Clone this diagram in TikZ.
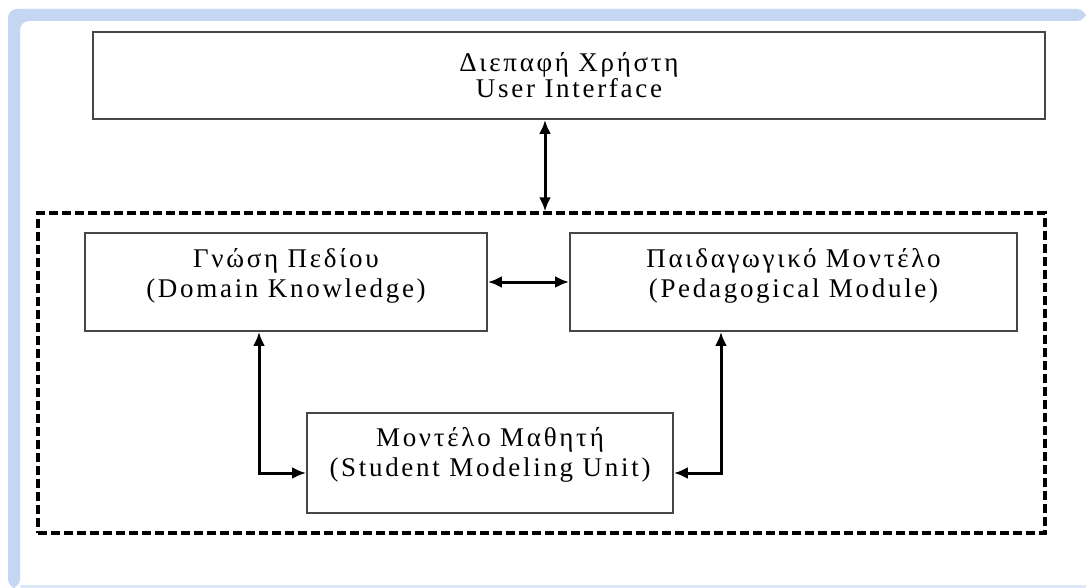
\documentclass[tikz,border=0pt]{standalone}
\usepackage{fontspec}
\setmainfont{Liberation Serif}[LetterSpace=10]
\usetikzlibrary{arrows.meta, positioning}
\definecolor{FrameBlue}{RGB}{196,214,242}
\definecolor{BoxGray}{RGB}{70,70,70}

\begin{document}
\begin{tikzpicture}[x=1pt, y=-1pt,
     N/.style = {draw=BoxGray, line width=1.8pt, fill=white, align=center,
                 inner sep=0pt, font=\fontsize{27}{30}\selectfont},
  core/.style = {draw, line width=3.2pt, dash pattern=on 9pt off 4pt,
                 inner sep=0pt},
    every edge/.style={draw, {Latex[length=14pt,width=12pt]}-{Latex[length=14pt,width=12pt]}, line width=3pt}
                        ]
\useasboundingbox (0,0) rectangle (1086,588);
% screenshot frame
\fill[white] (0,0) rectangle (1086,588);
\fill[FrameBlue, rounded corners=9pt] (1086,9) -- (8,9) -- (8,588) -- (20,588)
     -- (20,21) -- (1086,21) -- cycle;
\fill[FrameBlue!60] (20,585) rectangle (1086,588);

\node[core, minimum width=1007pt, minimum height=320pt] (core) at (541.5,373) {};
\node[N, minimum width=952pt, minimum height=87pt, font=\fontsize{27}{26}\selectfont] (ui) at (569,75.5)
     {Διεπαφή Χρήστη\\User Interface};
\node[N, minimum width=402pt, minimum height=98pt] (domain) at (286,282)
     {Γνώση Πεδίου\\(Domain Knowledge)\\[-12pt]};
\node[N, minimum width=447pt, minimum height=98pt] (pedag) at (793.5,282)
     {Παιδαγωγικό Μοντέλο\\(Pedagogical Module)\\[-12pt]};
\node[N, minimum width=366pt, minimum height=100pt] (student) at (490,463)
     {Μοντέλο Μαθητή\\(Student Modeling Unit)\\[-8pt]};

\coordinate (uiport) at (545,0);
\coordinate (lbend)  at (259,473);
\coordinate (rbend)  at (721,473);

\draw   (ui.south -| uiport) edge (core.north -| uiport)
        (domain.east) edge (pedag.west)
        (domain.south -| lbend) edge[to path={|- (\tikztotarget)}] (student.west |- lbend)
        (pedag.south -| rbend)  edge[to path={|- (\tikztotarget)}] (student.east |- rbend);
\end{tikzpicture}
\end{document}
